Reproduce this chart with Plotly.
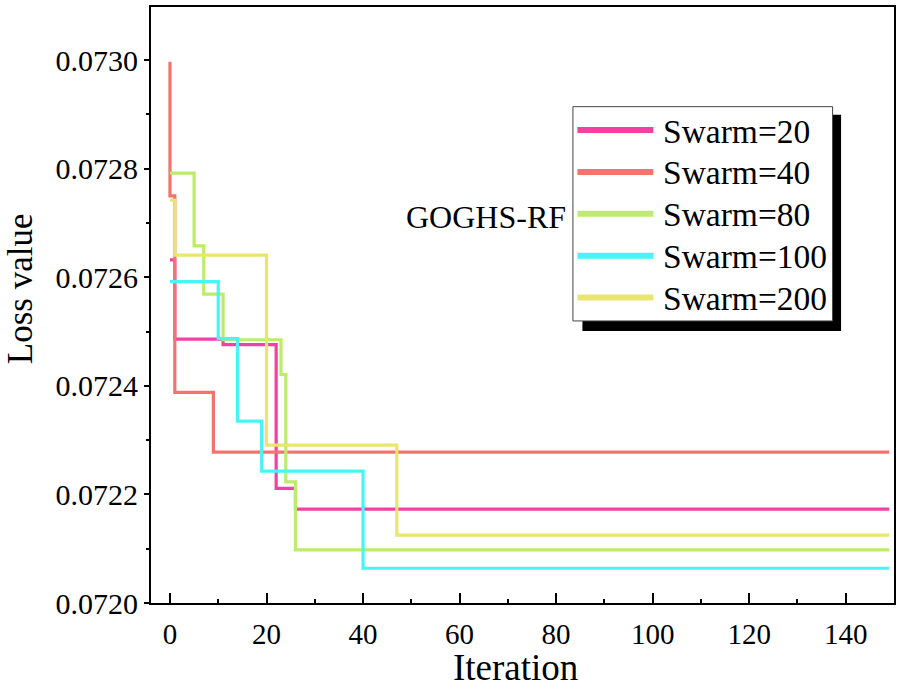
import plotly.graph_objects as go

# ---- data (change points of each step curve: iteration where value starts, loss value) ----
series_names = ["Swarm=20", "Swarm=40", "Swarm=80", "Swarm=100", "Swarm=200"]
series_colors = ["#F43FA3", "#F5736F", "#BDEB6B", "#45F5F7", "#EAE56E"]

swarm20_iter = [0, 1, 11, 22, 26, 149]
swarm20_loss = [0.072632, 0.072486, 0.072476, 0.072211, 0.072173, 0.072173]

swarm40_iter = [0, 0, 1, 9, 149]
swarm40_loss = [0.072997, 0.072750, 0.072388, 0.072278, 0.072278]

swarm80_iter = [0, 5, 7, 11, 23, 24, 26, 149]
swarm80_loss = [0.072792, 0.072658, 0.072569, 0.072485, 0.072421, 0.072223, 0.072098, 0.072098]

swarm100_iter = [0, 10, 14, 19, 40, 149]
swarm100_loss = [0.072592, 0.072487, 0.072335, 0.072243, 0.072064, 0.072064]

swarm200_iter = [0, 1, 20, 47, 149]
swarm200_loss = [0.072742, 0.072641, 0.072291, 0.072125, 0.072125]

x_tick_vals = [0, 20, 40, 60, 80, 100, 120, 140]
y_tick_vals = [0.0720, 0.0722, 0.0724, 0.0726, 0.0728, 0.0730]
y_tick_text = ["0.0720", "0.0722", "0.0724", "0.0726", "0.0728", "0.0730"]

annotation_text = "GOGHS-RF"
x_title = "Iteration"
y_title = "Loss value"

all_iters = [swarm20_iter, swarm40_iter, swarm80_iter, swarm100_iter, swarm200_iter]
all_loss = [swarm20_loss, swarm40_loss, swarm80_loss, swarm100_loss, swarm200_loss]

FONT = "Liberation Serif, Times New Roman, serif"
W, H = 901, 693
ML, MR, MT, MB = 151, 6, 5, 90
PW, PH = W - ML - MR, H - MT - MB


def px(xp):
    return (xp - ML) / PW


def py(yp):
    return (H - MB - yp) / PH


fig = go.Figure()
for name, color, xs, ys in zip(series_names, series_colors, all_iters, all_loss):
    fig.add_trace(go.Scatter(
        x=xs, y=ys, mode="lines", name=name,
        line=dict(color=color, width=3.2, shape="hv"),
        showlegend=False,
    ))

shapes = []
annotations = []
# legend shadow and box
shapes.append(dict(type="rect", xref="paper", yref="paper",
                   x0=px(583), x1=px(842), y0=py(330), y1=py(113),
                   fillcolor="black", line=dict(width=0), layer="above"))
shapes.append(dict(type="rect", xref="paper", yref="paper",
                   x0=px(573.5), x1=px(833.5), y0=py(320), y1=py(105),
                   fillcolor="white", line=dict(color="#444444", width=1), layer="above"))
row_y = [128.5, 170.5, 212.5, 254.5, 296.5]
for name, color, ry in zip(series_names, series_colors, row_y):
    shapes.append(dict(type="line", xref="paper", yref="paper",
                       x0=px(578), x1=px(654), y0=py(ry), y1=py(ry),
                       line=dict(color=color, width=6), layer="above"))
    annotations.append(dict(text=name, xref="paper", yref="paper",
                            x=px(662), y=py(ry + 1), xanchor="left", yanchor="middle",
                            showarrow=False, font=dict(family=FONT, size=33.5, color="black")))

annotations.append(dict(text=annotation_text, xref="paper", yref="paper",
                        x=px(404), y=py(216), xanchor="left", yanchor="middle",
                        showarrow=False, font=dict(family=FONT, size=32, color="black")))

# axis titles
annotations.append(dict(text=x_title, xref="paper", yref="paper",
                        x=px(516), y=py(668), xanchor="center", yanchor="middle",
                        showarrow=False, font=dict(family=FONT, size=37, color="black")))
annotations.append(dict(text=y_title, xref="paper", yref="paper",
                        x=px(20), y=py(288), xanchor="center", yanchor="middle",
                        textangle=-90,
                        showarrow=False, font=dict(family=FONT, size=35, color="black")))

fig.update_layout(
    width=W, height=H,
    margin=dict(l=ML, r=MR, t=MT, b=MB),
    paper_bgcolor="white", plot_bgcolor="white",
    font=dict(family=FONT, color="black"),
    shapes=shapes, annotations=annotations,
    showlegend=False,
)
fig.update_xaxes(
    range=[-3.93, 150.0],
    tickmode="array", tickvals=x_tick_vals,
    ticks="inside", ticklen=10, tickwidth=2, tickcolor="black",
    minor=dict(dtick=10, ticks="inside", ticklen=4, tickwidth=2, tickcolor="black"),
    showline=True, linecolor="black", linewidth=2, mirror=True,
    showgrid=False, zeroline=False,
    ticklabelstandoff=4,
    tickfont=dict(family=FONT, size=29, color="black"),
)
fig.update_yaxes(
    range=[0.0720, 0.073098],
    tickmode="array", tickvals=y_tick_vals, ticktext=y_tick_text,
    ticks="outside", ticklen=5, tickwidth=2, tickcolor="black",
    minor=dict(dtick=0.0001, ticks="outside", ticklen=3, tickwidth=2, tickcolor="black"),
    showline=True, linecolor="black", linewidth=2, mirror=True,
    showgrid=False, zeroline=False,
    tickfont=dict(family=FONT, size=30, color="black"),
)

fig.write_html(
    "out.html",
    config={"displayModeBar": False},
    post_script="document.body.style.margin='0';document.body.style.overflow='hidden';",
)
